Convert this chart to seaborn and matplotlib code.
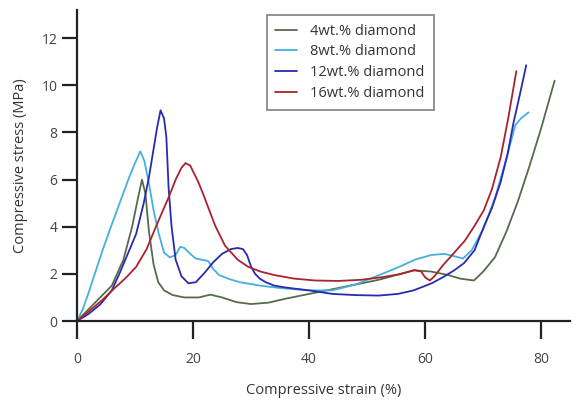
import pandas as pd
import matplotlib
matplotlib.use("Agg")
import matplotlib.pyplot as plt
import seaborn as sns

# curves (strain %, stress MPa)
LABELS = ['4wt.% diamond', '8wt.% diamond', '12wt.% diamond', '16wt.% diamond']
COLORS = ['#566b4c', '#45b0dc', '#2a2ab0', '#a8232f']

strain_4 = [0, 2, 4, 6, 8, 9.5, 10.5, 11.2, 11.8, 12.4, 13.2, 14, 15, 16.5, 18.5,
            21, 23, 25, 27.5, 30, 33, 36, 40, 44, 48, 52, 55, 58, 61, 64, 66,
            68.4, 70, 72, 74, 76, 78, 80, 82.3]
stress_4 = [0, 0.5, 1.0, 1.5, 2.6, 4.0, 5.2, 6.0, 5.4, 3.8, 2.4, 1.65, 1.3, 1.1, 1.0,
            1.0, 1.12, 1.0, 0.8, 0.72, 0.78, 0.95, 1.15, 1.35, 1.55, 1.75, 1.95, 2.15, 2.1, 1.95, 1.8,
            1.72, 2.1, 2.7, 3.8, 5.1, 6.6, 8.2, 10.2]

strain_8 = [0, 1, 2, 3, 4.4, 6, 7.5, 9, 10, 10.9, 11.6, 12.4, 13.2, 14.1, 15, 16, 17,
            17.8, 18.5, 19.5, 20.5, 21.5, 22.6, 23.5, 24.5, 26, 28, 31.6, 35, 40, 44, 48,
            52.6, 56, 58.2, 61, 63.3, 65, 66.5, 68, 70, 72, 74, 75.5, 76.5, 77.8]
stress_8 = [0, 0.5, 1.2, 1.95, 3.0, 4.1, 5.1, 6.1, 6.7, 7.2, 6.8, 5.85, 4.7, 3.7, 2.9, 2.7, 2.8,
            3.15, 3.1, 2.85, 2.65, 2.6, 2.55, 2.2, 1.95, 1.8, 1.65, 1.5, 1.4, 1.3, 1.3, 1.55,
            2.0, 2.35, 2.6, 2.8, 2.85, 2.75, 2.65, 3.0, 3.9, 5.2, 6.9, 8.3, 8.6, 8.85]

strain_12 = [0, 2, 4, 6, 7.3, 8.5, 10.2, 11.5, 12.4, 13.2, 13.8, 14.4, 15.0, 15.4, 15.8,
             16.3, 17.0, 18, 19.2, 20.5, 22, 23.5, 25, 26.5, 27.7, 28.6, 29.3, 30, 30.7,
             31.5, 32.5, 34, 36, 40, 44, 48, 52, 55.3, 58, 61.1, 63, 65, 66.7, 68.5, 70.1,
             71.5, 73, 74.2, 75.2, 76.3, 77.4]
stress_12 = [0, 0.3, 0.7, 1.3, 2.0, 2.7, 3.7, 5.0, 6.1, 7.3, 8.2, 8.94, 8.6, 7.8, 5.6,
             4.0, 2.6, 1.9, 1.6, 1.65, 2.05, 2.5, 2.85, 3.05, 3.1, 3.05, 2.8, 2.3, 2.0,
             1.8, 1.65, 1.5, 1.42, 1.3, 1.15, 1.1, 1.08, 1.15, 1.3, 1.6, 1.85, 2.15, 2.46, 3.0, 4.0,
             4.8, 5.9, 7.1, 8.4, 9.6, 10.85]

strain_16 = [0, 2, 4.4, 6.5, 8.5, 10.2, 12, 13.6, 15, 15.8, 17, 18, 18.7, 19.5, 20.9, 21.8,
             22.8, 23.8, 25.5, 27.7, 29.5, 31.6, 34, 37.4, 41, 45, 49, 52.6, 55.5, 58.2, 59.3,
             60, 60.8, 61.6, 63, 65, 66.8, 68.4, 70.1, 71.5, 73, 74.3, 75.7]
stress_16 = [0, 0.4, 0.9, 1.4, 1.85, 2.3, 3.05, 4.0, 4.8, 5.25, 6.0, 6.5, 6.7, 6.6, 5.9, 5.35,
             4.7, 4.05, 3.2, 2.6, 2.3, 2.1, 1.95, 1.8, 1.72, 1.7, 1.75, 1.86, 1.98, 2.16, 2.1,
             1.85, 1.72, 1.9, 2.35, 2.9, 3.4, 4.0, 4.7, 5.6, 6.95, 8.6, 10.6]

x_ticks = [0, 20, 40, 60, 80]
y_ticks = [0, 2, 4, 6, 8, 10, 12]

frames = []
for lab, xs, ys in zip(LABELS,
                       [strain_4, strain_8, strain_12, strain_16],
                       [stress_4, stress_8, stress_12, stress_16]):
    frames.append(pd.DataFrame({'strain': xs, 'stress': ys, 'sample': lab}))
df = pd.concat(frames, ignore_index=True)

sns.set_theme(style='ticks')
plt.rcParams['font.family'] = ['Open Sans', 'DejaVu Sans']

fig = plt.figure(figsize=(5.77, 4.04), dpi=100)
ax = fig.add_axes([0.1334, 0.2054, 0.854, 0.77])

sns.lineplot(data=df, x='strain', y='stress', hue='sample', hue_order=LABELS,
             palette=dict(zip(LABELS, COLORS)), estimator=None, sort=False,
             linewidth=1.3, ax=ax)

ax.set_xlim(0, 84.9)
ax.set_ylim(0, 13.2)
ax.set_xticks(x_ticks)
ax.set_yticks(y_ticks)
sns.despine(ax=ax)
for side in ['left', 'bottom']:
    ax.spines[side].set_linewidth(1.6)
    ax.spines[side].set_color('#222222')
ax.tick_params(axis='x', direction='out', length=13, width=1.6, pad=9,
               labelsize=10, colors='#222222', labelcolor='#444444')
ax.tick_params(axis='y', direction='out', length=11, width=1.6, pad=3,
               labelsize=10, colors='#222222', labelcolor='#444444')

ax.set_xlabel('Compressive strain (%)', fontsize=10.5, color='#333333', labelpad=12)
ax.set_ylabel('Compressive stress (MPa)', fontsize=10.5, color='#333333', labelpad=10)

handles, labels = ax.get_legend_handles_labels()
leg = ax.legend(handles, labels, loc='upper left', bbox_to_anchor=(0.385, 0.984),
                borderaxespad=0, fontsize=10.5, frameon=True, fancybox=False,
                edgecolor='#808080', framealpha=1, handlelength=1.5,
                handletextpad=0.9, labelspacing=0.4, borderpad=0.6)
leg.get_frame().set_linewidth(1.2)
for t in leg.get_texts():
    t.set_color('#333333')

fig.savefig('out.png', dpi=100)
